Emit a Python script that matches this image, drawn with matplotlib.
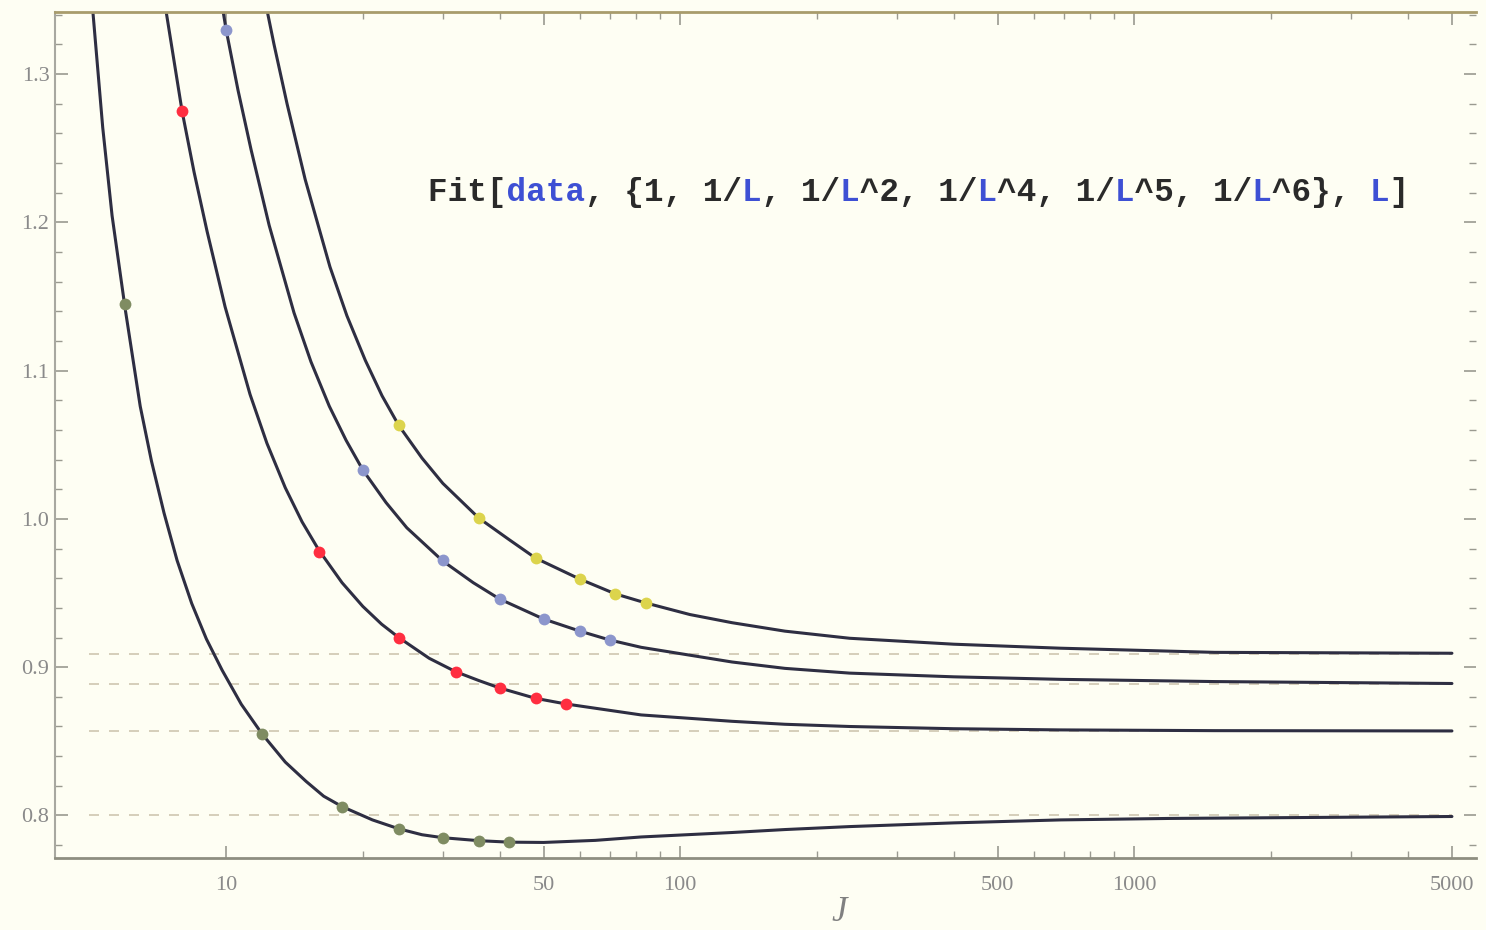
import matplotlib.pyplot as plt
from matplotlib.ticker import FixedLocator, NullFormatter
import numpy as np

# data points
L_green = [6, 12, 18, 24, 30, 36, 42]
v_green = [1.145, 0.855, 0.806, 0.791, 0.785, 0.783, 0.782]
L_red = [8, 16, 24, 32, 40, 48, 56]
v_red = [1.275, 0.978, 0.920, 0.897, 0.886, 0.879, 0.875]
L_blue = [10, 20, 30, 40, 50, 60, 70]
v_blue = [1.330, 1.033, 0.972, 0.946, 0.9325, 0.9244, 0.9183]
L_yellow = [24, 36, 48, 60, 72, 84]
v_yellow = [1.063, 1.0006, 0.9736, 0.9595, 0.9494, 0.9433]

# fitted curves
cL_green = [5.09, 5.35, 5.61, 6.0, 6.47, 6.85, 7.3, 7.8, 8.4, 9.05, 9.8, 10.8, 12, 13.5, 15, 16.4,
            18, 21, 24, 27, 30, 36, 42, 50, 65, 82, 130, 170, 236, 400, 687, 1200, 2322, 5000]
cv_green = [1.342, 1.264, 1.2045, 1.141, 1.076, 1.039, 1.004, 0.972, 0.943, 0.919, 0.898, 0.875,
            0.855, 0.836, 0.823, 0.813, 0.806, 0.797, 0.791, 0.787, 0.785, 0.783, 0.782, 0.7818,
            0.7832, 0.7855, 0.7885, 0.7905, 0.7925, 0.795, 0.797, 0.798, 0.7986, 0.7993]
cL_red = [7.38, 8, 8.5, 9.08, 9.95, 11.29, 12.3, 13.5, 14.7, 16, 18, 20, 22, 24, 28, 32, 36, 40, 48,
          56, 82, 130, 170, 236, 400, 687, 1500, 5000]
cv_red = [1.342, 1.275, 1.234, 1.194, 1.143, 1.084, 1.051, 1.021, 0.998, 0.979, 0.957, 0.941, 0.929,
          0.920, 0.906, 0.897, 0.891, 0.886, 0.879, 0.8752, 0.8678, 0.8635, 0.8615, 0.860, 0.8585,
          0.8577, 0.8572, 0.857]
cL_blue = [9.72, 10, 10.625, 11.35, 12.44, 14.11, 15.375, 16.875, 18.375, 20, 22.5, 25, 30, 35, 40,
           50, 60, 70, 82, 130, 170, 236, 400, 687, 1500, 5000]
cv_blue = [1.353, 1.330, 1.289, 1.249, 1.198, 1.139, 1.106, 1.076, 1.053, 1.033, 1.011, 0.994, 0.9716,
           0.957, 0.946, 0.9325, 0.9244, 0.9183, 0.9134, 0.9035, 0.8992, 0.896, 0.8935, 0.8918,
           0.8903, 0.889]
cL_yellow = [12.12, 12.75, 13.62, 14.93, 16.93, 18.45, 20.25, 22.05, 24, 27, 30, 36, 42, 48, 60, 72,
             84, 105, 130, 170, 236, 400, 687, 1500, 5000]
cv_yellow = [1.353, 1.320, 1.280, 1.229, 1.170, 1.137, 1.107, 1.083, 1.063, 1.041, 1.024, 1.0006,
             0.986, 0.9736, 0.9595, 0.9494, 0.9433, 0.9355, 0.930, 0.9243, 0.9195, 0.9155, 0.9128,
             0.910, 0.9094]

limits = [4/5, 6/7, 8/9, 10/11]

xticks = [10, 50, 100, 500, 1000, 5000]
xminor = [20, 30, 40, 60, 70, 80, 90, 200, 300, 400, 600, 700, 800, 900, 2000, 3000, 4000]
yticks = [0.8, 0.9, 1.0, 1.1, 1.2, 1.3]
yminor = np.arange(0.78, 1.341, 0.02)

bg = '#fefef3'
fig = plt.figure(figsize=(14.86, 9.3), dpi=100, facecolor=bg)
ax = fig.add_axes([0.037, 0.0774, 0.9563, 0.9096], facecolor=bg)
ax.set_xscale('log')

for y in limits:
    ax.hlines(y, 5, 5000, colors='#cfc6b0', linewidth=1.2, linestyles=(0, (6, 6)), zorder=1)

line_col = '#2e2e42'
for cl, cv in [(cL_green, cv_green), (cL_red, cv_red), (cL_blue, cv_blue), (cL_yellow, cv_yellow)]:
    ax.plot(cl, cv, color=line_col, lw=2.2, zorder=2, solid_capstyle='round', solid_joinstyle='round')

for L, v, c in [(L_green, v_green, '#7f8c62'), (L_red, v_red, '#ff2e40'),
                (L_blue, v_blue, '#8c96cc'), (L_yellow, v_yellow, '#dcd44c')]:
    ax.plot(L, v, 'o', color=c, ms=8.5, mec='none', zorder=3)

ax.set_xlim(4.2, 5650)
ax.set_ylim(0.7713, 1.3418)

ax.xaxis.set_major_locator(FixedLocator(xticks))
ax.xaxis.set_minor_locator(FixedLocator(xminor))
ax.xaxis.set_minor_formatter(NullFormatter())
ax.set_xticklabels([str(t) for t in xticks])
ax.yaxis.set_major_locator(FixedLocator(yticks))
ax.yaxis.set_minor_locator(FixedLocator(yminor))
ax.set_yticklabels(['%.1f' % t for t in yticks])

tick_col = '#9a9a90'
ax.tick_params(which='both', direction='in', colors=tick_col, top=True, right=True,
               labelsize=16, labelcolor='#8a8a8a')
ax.tick_params(which='major', length=9, width=1.2)
ax.tick_params(which='minor', length=5, width=1.0)
ax.tick_params(axis='x', pad=13)
ax.tick_params(axis='y', pad=4)
for lab in ax.get_xticklabels() + ax.get_yticklabels():
    lab.set_family('Liberation Serif')

ax.spines['right'].set_visible(False)
ax.spines['top'].set_color('#a89c6c')
ax.spines['top'].set_linewidth(2)
ax.spines['left'].set_color('#a8a8a0')
ax.spines['left'].set_linewidth(1.5)
ax.spines['bottom'].set_color('#8e8e80')
ax.spines['bottom'].set_linewidth(2)

ax.set_xlabel('J', fontsize=25, style='italic', family='Liberation Serif', color='#808080')
ax.xaxis.set_label_coords(0.552, -0.045)

# Mathematica-style code label, monospace so colours can be laid out by character
segments = [('Fit[', 'k'), ('data', 'b'), (', {1, 1/', 'k'), ('L', 'b'), (', 1/', 'k'), ('L', 'b'),
            ('^2, 1/', 'k'), ('L', 'b'), ('^4, 1/', 'k'), ('L', 'b'), ('^5, 1/', 'k'), ('L', 'b'),
            ('^6}, ', 'k'), ('L', 'b'), (']', 'k')]
colors = {'k': '#2a2a2a', 'b': '#3e50d4'}
for key, col in colors.items():
    s = ''.join(t if c == key else ' ' * len(t) for t, c in segments)
    fig.text(0.288, 0.7935, s, family='Liberation Mono', fontsize=23.5, fontweight='bold',
             color=col, ha='left', va='center')

fig.savefig('out.png', dpi=100, facecolor=bg)
